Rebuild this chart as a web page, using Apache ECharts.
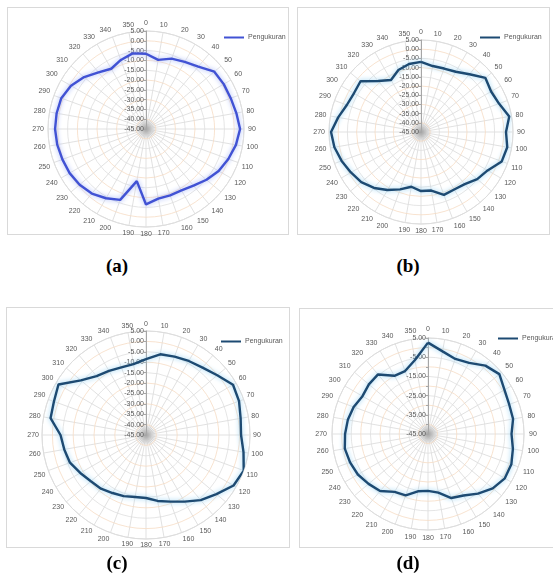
<!DOCTYPE html>
<html>
<head>
<meta charset="utf-8">
<title>Pola radiasi</title>
<script src="https://cdn.jsdelivr.net/npm/echarts@6/dist/echarts.min.js"></script>
<style>
  html, body { margin: 0; padding: 0; background: #fff; }
  body { position: relative; width: 553px; height: 584px; overflow: hidden; }
  .frame { position: absolute; box-sizing: border-box; border: 1px solid #d9d9d9; background: #fff; }
  .chart { position: absolute; }
  .caption {
    position: absolute;
    width: 60px;
    margin-left: -30px;
    text-align: center;
    font-family: 'Liberation Serif', 'Times New Roman', serif;
    font-weight: bold;
    font-size: 19px;
    line-height: 20px;
    color: #000;
  }
</style>
</head>
<body>
<div class="frame" style="left:7px;top:7px;width:282px;height:228px"></div>
<div class="frame" style="left:297px;top:7px;width:253px;height:228px"></div>
<div class="frame" style="left:6px;top:307px;width:284px;height:241px"></div>
<div class="frame" style="left:299px;top:308px;width:256px;height:240px"></div>

<div id="chartA" class="chart" style="left:7px;top:7px;width:282px;height:240px"></div>
<div id="chartB" class="chart" style="left:297px;top:7px;width:253px;height:240px"></div>
<div id="chartC" class="chart" style="left:6px;top:307px;width:284px;height:250px"></div>
<div id="chartD" class="chart" style="left:299px;top:308px;width:256px;height:250px"></div>

<div class="caption" style="left:117px;top:256px">(a)</div>
<div class="caption" style="left:408px;top:256px">(b)</div>
<div class="caption" style="left:117px;top:553px">(c)</div>
<div class="caption" style="left:408px;top:553px">(d)</div>

<script>
// sudut (derajat)
const angles = [0, 10, 20, 30, 40, 50, 60, 70, 80, 90, 100, 110, 120, 130, 140, 150, 160, 170,
  180, 190, 200, 210, 220, 230, 240, 250, 260, 270, 280, 290, 300, 310, 320, 330, 340, 350];

// hasil pengukuran (dB)
const seriesA = [-6.6, -9.2, -6.8, -5.5, -3.5, 0.5, 0.8, 1.0, 1.8, 3.0, 1.6, -0.3, -2.2, -4.7, -7.3, -8.8, -9.0, -8.9,
  -6.5, -18.0, -6.5, -4.2, -2.0, -0.8, 0.0, 0.4, 1.0, 1.4, 1.3, 1.0, -0.8, -3.8, -7.3, -9.5, -7.5, -5.8];
const seriesB = [-6.9, -8.6, -8.3, -7.2, -4.0, 0.7, -1.0, 0.1, 3.7, 1.2, 2.6, 1.7, -3.2, -5.1, -8.0, -8.9, -8.6, -12.7,
  -12.9, -14.8, -11.8, -8.6, -5.3, -2.6, -1.0, 0.9, 2.8, 3.9, 0.7, -2.1, -2.9, -2.1, -8.8, -12.4, -9.1, -7.5];
const seriesC = [-8.5, -5.6, -4.9, -3.9, -2.7, -0.3, 3.3, 2.6, 1.2, 0.7, 2.6, 5.0, 3.6, -0.8, -4.1, -8.0, -10.9, -12.8,
  -14.7, -14.7, -13.7, -12.8, -11.3, -10.4, -8.5, -6.1, -5.1, -3.9, 1.6, 2.1, 3.6, -4.1, -8.0, -9.4, -10.4, -10.4];
const seriesD = [2.6, -1.3, -3.4, -2.2, 1.5, 3.5, 1.0, 0.0, 0.0, -1.5, -0.1, 1.2, 1.2, -1.0, -4.5, -8.0, -9.5, -14.0,
  -15.4, -14.7, -11.0, -10.2, -6.2, -4.6, -2.8, -1.8, -1.0, -1.8, -2.6, -3.8, -5.6, -4.8, -4.5, -10.0, -10.1, -5.9];

// sumbu radial
const radiusMin = -45;
const radiusMax = 5;
const radiusStep = 5;

const seriesName = 'Pengukuran';

const axisText = {
  color: '#595959',
  fontFamily: 'Liberation Sans',
  fontSize: 7
};

// data polar: [radius, angle], ditutup kembali ke titik awal
const toPolarData = (values) => {
  const data = values.map((v, i) => [v, angles[i]]);
  data.push([values[0], 360]);
  return data;
};

const createOption = (cfg) => ({
  animation: false,
  // bayangan abu-abu di pusat (garis jari-jari yang menumpuk)
  graphic: [
    {
      type: 'circle',
      silent: true,
      z: 1,
      shape: { cx: cfg.center[0], cy: cfg.center[1], r: 11 },
      style: {
        fill: new echarts.graphic.RadialGradient(0.5, 0.5, 0.5, [
          { offset: 0, color: 'rgba(120,120,120,0.55)' },
          { offset: 1, color: 'rgba(160,160,160,0)' }
        ])
      }
    }
  ],
  legend: {
    left: cfg.legendLeft,
    top: cfg.legendTop,
    icon: 'rect',
    itemWidth: 20,
    itemHeight: 2,
    itemGap: 4,
    data: [seriesName],
    textStyle: { ...axisText, padding: [0, 0, 0, -1] }
  },
  polar: {
    center: cfg.center,
    radius: cfg.radius
  },
  angleAxis: {
    type: 'value',
    min: 0,
    max: 360,
    interval: 10,
    startAngle: 90,
    clockwise: true,
    axisLine: { lineStyle: { color: '#d9d9d9', width: 1 } },
    axisTick: { show: false },
    axisLabel: {
      ...axisText,
      margin: cfg.labelMargin,
      formatter: (v) => (v === 360 ? '' : String(v))
    },
    splitLine: { lineStyle: { color: '#d9d9d9', width: 0.8 } }
  },
  radiusAxis: {
    type: 'value',
    min: radiusMin,
    max: radiusMax,
    interval: radiusStep,
    axisLine: { lineStyle: { color: '#a6a6a6' } },
    axisTick: { show: true, length: 2, lineStyle: { color: '#a6a6a6' } },
    axisLabel: {
      ...axisText,
      align: 'right',
      margin: 2,
      formatter: (v) => {
        if (cfg.labelEvery && (v - radiusMin) % cfg.labelEvery !== 0) return '';
        return v.toFixed(2);
      }
    },
    splitLine: {
      show: true,
      lineStyle: { color: ['#dedede', '#f6dcc4'], width: 0.8 }
    },
    z: 5
  },
  series: [
    {
      name: seriesName,
      type: 'line',
      coordinateSystem: 'polar',
      data: toPolarData(cfg.values),
      showSymbol: false,
      smooth: false,
      color: cfg.color,
      lineStyle: {
        color: cfg.color,
        width: 2.4,
        shadowColor: cfg.glow,
        shadowBlur: 5
      },
      z: 10
    }
  ]
});

const charts = [
  { id: 'chartA', values: seriesA, center: [139, 122], radius: 98, labelMargin: 4, color: '#4152d4', glow: '#9fb2f6', legendLeft: 212, legendTop: 22 },
  { id: 'chartB', values: seriesB, center: [124, 125], radius: 92, labelMargin: 4, color: '#1d4a72', glow: '#93d0f2', legendLeft: 178, legendTop: 22 },
  { id: 'chartC', values: seriesC, center: [140, 128], radius: 104, labelMargin: 3, color: '#1d4a72', glow: '#93d0f2', legendLeft: 210, legendTop: 26 },
  { id: 'chartD', values: seriesD, center: [129, 126], radius: 96, labelMargin: 5, color: '#1d4a72', glow: '#93d0f2', legendLeft: 194, legendTop: 22, labelEvery: 10 }
];

charts.forEach((cfg) => {
  const chart = echarts.init(document.getElementById(cfg.id), null, { renderer: 'canvas' });
  chart.setOption(createOption(cfg));
});
</script>
</body>
</html>
